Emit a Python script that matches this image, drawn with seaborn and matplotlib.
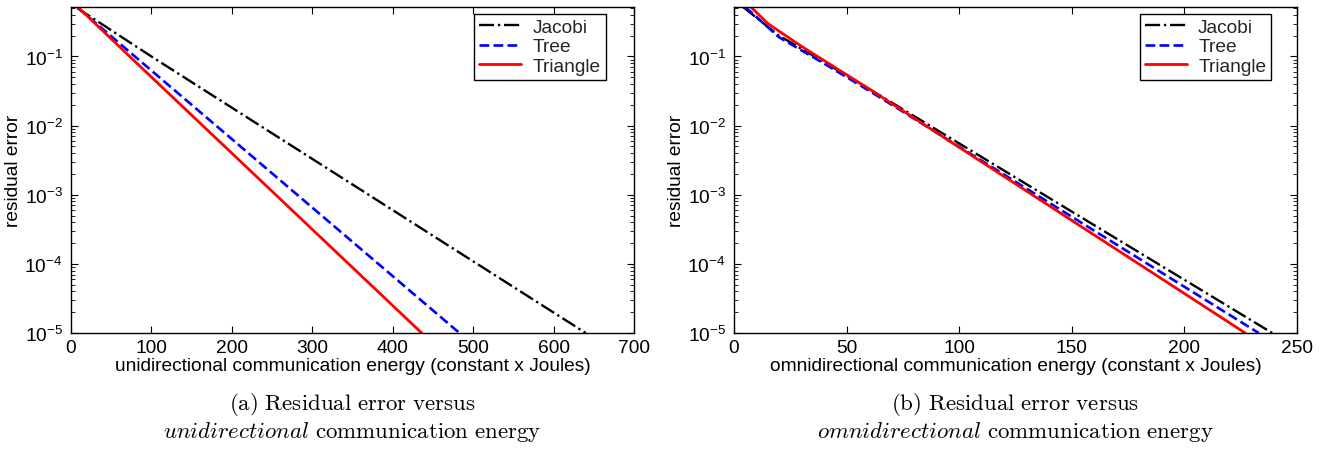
import matplotlib
matplotlib.use("Agg")
import matplotlib.pyplot as plt
import seaborn as sns
import numpy as np
import pandas as pd
from matplotlib.ticker import LogLocator, NullFormatter

# ---------------- data ----------------
series_names = ["Jacobi", "Tree", "Triangle"]

# (a) unidirectional
uni_jacobi_x = [8, 100, 640]
uni_jacobi_y = [0.5, 0.1, 1e-5]
uni_tree_x = [9, 150, 483]
uni_tree_y = [0.5, 0.02, 1e-5]
uni_tri_x = [10, 73, 436]
uni_tri_y = [0.5, 0.1, 1e-5]

# (b) omnidirectional
omni_jacobi_x = [4, 20, 40, 60, 239]
omni_jacobi_y = [0.52, 0.20, 0.083, 0.034, 1e-5]
omni_tree_x = [5, 20, 40, 60, 233]
omni_tree_y = [0.52, 0.19, 0.079, 0.032, 1e-5]
omni_tri_x = [7.5, 15, 30, 60, 227]
omni_tri_y = [0.52, 0.30, 0.14, 0.034, 1e-5]

uni_xticks = [0, 100, 200, 300, 400, 500, 600, 700]
omni_xticks = [0, 50, 100, 150, 200, 250]

xlabels = ["unidirectional communication energy (constant x Joules)",
           "omnidirectional communication energy (constant x Joules)"]
ylabel = "residual error"
captions = [
    (r"$\mathrm{(a)\ Residual\ error\ versus}$",
     r"$\mathit{unidirectional}\ \mathrm{communication\ energy}$"),
    (r"$\mathrm{(b)\ Residual\ error\ versus}$",
     r"$\mathit{omnidirectional}\ \mathrm{communication\ energy}$"),
]

# ---------------- style ----------------
sns.set_theme(style="ticks")
plt.rcParams["font.family"] = ["Liberation Sans", "DejaVu Sans"]
plt.rcParams["mathtext.fontset"] = "custom"
plt.rcParams["mathtext.rm"] = "Liberation Sans"
plt.rcParams["mathtext.it"] = "Liberation Sans:italic"
plt.rcParams["mathtext.bf"] = "Liberation Sans:bold"

FS = 13.8
CAP_FS = 16.5

styles = {
    "Jacobi": dict(color="black", linestyle="-.", lw=1.7),
    "Tree": dict(color="blue", linestyle="--", lw=1.9),
    "Triangle": dict(color="red", linestyle="-", lw=2.0),
}

W, H = 1325, 452
fig = plt.figure(figsize=(W / 100, H / 100), dpi=100)

def px_axes(x0, x1, y0, y1):
    return fig.add_axes([x0 / W, 1 - y1 / H, (x1 - x0) / W, (y1 - y0) / H])

ax1 = px_axes(71, 634, 8, 334)
ax2 = px_axes(734, 1297, 8, 334)

panels = [
    (ax1, [(uni_jacobi_x, uni_jacobi_y), (uni_tree_x, uni_tree_y), (uni_tri_x, uni_tri_y)],
     (0, 700), uni_xticks, 0.950),
    (ax2, [(omni_jacobi_x, omni_jacobi_y), (omni_tree_x, omni_tree_y), (omni_tri_x, omni_tri_y)],
     (0, 250), omni_xticks, 0.954),
]

for i, (ax, data, xlim, xticks, lx) in enumerate(panels):
    for name, (xs, ys) in zip(series_names, data):
        df = pd.DataFrame({"x": xs, "y": ys})
        sns.lineplot(data=df, x="x", y="y", ax=ax, label=name, sort=False,
                     estimator=None, **styles[name])
    ax.set_yscale("log")
    ax.set_xlim(*xlim)
    ax.set_ylim(1e-5, 0.52)
    ax.set_xticks(xticks)
    ax.yaxis.set_major_locator(LogLocator(base=10, numticks=10))
    ax.yaxis.set_minor_locator(LogLocator(base=10, subs=np.arange(2, 10), numticks=20))
    ax.yaxis.set_minor_formatter(NullFormatter())
    ax.tick_params(which="both", direction="in", top=True, right=True,
                   labelsize=FS, colors="black")
    ax.tick_params(which="major", length=5, width=0.8)
    ax.tick_params(which="minor", length=3, width=0.6)
    ax.tick_params(axis="y", pad=6)
    ax.tick_params(axis="x", pad=4)
    for s in ax.spines.values():
        s.set_color("black")
        s.set_linewidth(1.0)
    ax.set_xlabel(xlabels[i], fontsize=FS, labelpad=1, color="black")
    ax.set_ylabel(ylabel, fontsize=FS, labelpad=2, color="black")
    ax.set_facecolor("white")
    leg = ax.legend(loc="upper right", bbox_to_anchor=(lx, 0.979), borderaxespad=0,
                    fontsize=FS, frameon=True, fancybox=False, framealpha=1,
                    edgecolor="black", labelspacing=0.1, borderpad=0.25,
                    handlelength=2.2, handletextpad=0.6)
    leg.get_frame().set_linewidth(1.0)

cx = [(71 + 634) / 2 / W, (734 + 1297) / 2 / W]
for i, (l1, l2) in enumerate(captions):
    fig.text(cx[i], 1 - 405 / H, l1, ha="center", va="center", fontsize=CAP_FS,
             math_fontfamily="cm", color="black")
    fig.text(cx[i], 1 - 432 / H, l2, ha="center", va="center", fontsize=CAP_FS,
             math_fontfamily="cm", color="black")

fig.savefig("out.png", dpi=100, facecolor="white")
